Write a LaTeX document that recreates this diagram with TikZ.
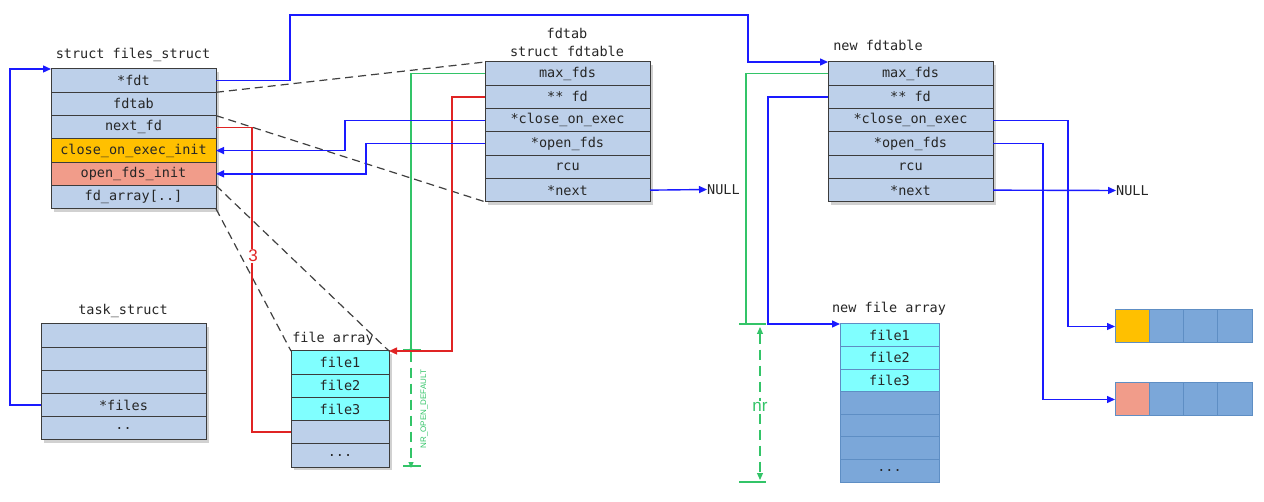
\documentclass[tikz,border=0pt]{standalone}
\usepackage{fontspec}
\setmainfont{Liberation Sans}
\newfontfamily\monof{DejaVu Sans Mono}
\usetikzlibrary{arrows.meta,backgrounds,calc}
\definecolor{lb}{HTML}{BDD0EA}
\definecolor{cy}{HTML}{80FFFF}
\definecolor{og}{HTML}{FFC000}
\definecolor{sa}{HTML}{F19C8A}
\definecolor{db}{HTML}{7BA7D9}
\definecolor{dbb}{HTML}{5E8EC4}
\definecolor{bline}{HTML}{1A1AFF}
\definecolor{rline}{HTML}{E02424}
\definecolor{gline}{HTML}{33C468}
\definecolor{bord}{HTML}{3C3C3C}
\begin{document}
\begin{tikzpicture}[x=1pt,y=-1pt,
  cell/.style={draw=bord, line width=1pt, fill=lb, minimum width=165pt, minimum height=23.3pt,
    inner sep=0pt, outer sep=0pt, anchor=north west, font=\monof\fontsize{13.5}{15}\selectfont, text=black!85},
  fcell/.style={cell, minimum width=98pt, minimum height=23.2pt},
  ncell/.style={cell, draw=dbb, fill=db, minimum width=99pt, minimum height=22.6pt},
  bcell/.style={cell, draw=dbb, fill=db, minimum width=34.25pt, minimum height=33pt},
  title/.style={font=\monof\fontsize{13.5}{15}\selectfont, text=black!85, inner sep=0pt},
  bl/.style={draw=bline, line width=1.4pt},
  rd/.style={draw=rline, line width=1.4pt},
  gr/.style={draw=gline, line width=1.2pt},
  gdash/.style={gr, dash pattern=on 10pt off 6pt},
  arr/.style={-{Triangle[length=8pt,width=7pt]}},
  dsh/.style={draw=black!75, line width=1.2pt, dash pattern=on 8pt off 5pt},
  shad/.style={fill=black, opacity=0.18}
]
\useasboundingbox (0,0) rectangle (1264,502);

% ---- struct files_struct
\node[title] (tfs) at (133,55) {struct files\_struct};
\node[cell] (fs1) at (51,69) {*fdt};
\node[cell] (fs2) at (fs1.south west) {fdtab};
\node[cell] (fs3) at (fs2.south west) {next\_fd};
\node[cell, fill=og] (fs4) at (fs3.south west) {close\_on\_exec\_init};
\node[cell, fill=sa] (fs5) at (fs4.south west) {open\_fds\_init};
\node[cell] (fs6) at (fs5.south west) {fd\_array[..]};

% ---- fdtable
\node[title] (tfd0) at (567,33) {fdtab};
\node[title] (tfd) at (567,51) {struct fdtable};
\node[cell] (fd1) at (485,62) {max\_fds};
\node[cell] (fd2) at (fd1.south west) {** fd};
\node[cell] (fd3) at (fd2.south west) {*close\_on\_exec};
\node[cell] (fd4) at (fd3.south west) {*open\_fds};
\node[cell] (fd5) at (fd4.south west) {rcu};
\node[cell] (fd6) at (fd5.south west) {*next};

% ---- new fdtable
\node[title] (tnf) at (878,45) {new fdtable};
\node[cell] (nf1) at (828,62) {max\_fds};
\node[cell] (nf2) at (nf1.south west) {** fd};
\node[cell] (nf3) at (nf2.south west) {*close\_on\_exec};
\node[cell] (nf4) at (nf3.south west) {*open\_fds};
\node[cell] (nf5) at (nf4.south west) {rcu};
\node[cell] (nf6) at (nf5.south west) {*next};

% ---- task_struct
\node[title] (tts) at (123,311) {task\_struct};
\node[cell, minimum height=23.2pt] (ts1) at (41,324) {};
\node[cell, minimum height=23.2pt] (ts2) at (ts1.south west) {};
\node[cell, minimum height=23.2pt] (ts3) at (ts2.south west) {};
\node[cell, minimum height=23.2pt] (ts4) at (ts3.south west) {*files};
\node[cell, minimum height=23.2pt] (ts5) at (ts4.south west) {..};

% ---- file array
\node[title] (tfa) at (333,339) {file array};
\node[fcell, fill=cy] (fa1) at (291,351) {file1};
\node[fcell, fill=cy] (fa2) at (fa1.south west) {file2};
\node[fcell, fill=cy] (fa3) at (fa2.south west) {file3};
\node[fcell] (fa4) at (fa3.south west) {};
\node[fcell] (fa5) at (fa4.south west) {...};

% ---- new file array
\node[title] (tna) at (889,309) {new file array};
\node[ncell, fill=cy] (na1) at (840,324) {file1};
\node[ncell, fill=cy] (na2) at (na1.south west) {file2};
\node[ncell, fill=cy] (na3) at (na2.south west) {file3};
\node[ncell] (na4) at (na3.south west) {};
\node[ncell] (na5) at (na4.south west) {};
\node[ncell] (na6) at (na5.south west) {};
\node[ncell] (na7) at (na6.south west) {...};

% ---- bitmaps
\node[bcell, fill=og] (ba1) at (1115,310) {};
\node[bcell] (ba2) at (ba1.north east) {};
\node[bcell] (ba3) at (ba2.north east) {};
\node[bcell] (ba4) at (ba3.north east) {};
\node[bcell, fill=sa] (bb1) at (1115,383) {};
\node[bcell] (bb2) at (bb1.north east) {};
\node[bcell] (bb3) at (bb2.north east) {};
\node[bcell] (bb4) at (bb3.north east) {};

% ---- shadows
\begin{scope}[on background layer]
  \foreach \a/\b in {fs1/fs6, fd1/fd6, nf1/nf6, ts1/ts5, fa1/fa5}
    \fill[shad] ([shift={(3,3)}]\a.north west) rectangle ([shift={(3,3)}]\b.south east);
\end{scope}

% ---- NULL labels
\node[title, anchor=west] (null1) at (707,189.5) {NULL};
\node[title, anchor=west] (null2) at (1116,190.5) {NULL};

% ---- dashed guide lines
\draw[dsh] (fs2.north east) -- (fd1.north west);
\draw[dsh] (fs2.south east) -- (fd6.south west);
\draw[dsh] (fs6.north east) -- (fa1.north east);
\draw[dsh] (fs6.south east) -- (fa1.north west);

% ---- green (max_fds) lines and dimensions
\coordinate (g1t) at (411,350);
\coordinate (g1b) at (411,466);
\draw[gr] (fd1.west) -| (g1t);
\draw[gr] (403,466) -- (421,466);
\draw[gdash, {Triangle[length=6pt,width=5pt]}-{Triangle[length=6pt,width=5pt]}] ([yshift=4pt]g1t) -- ([yshift=-2pt]g1b);
\node[text=gline, font=\fontsize{8}{9}\selectfont, rotate=90, inner sep=0pt] (nrod) at (424,409) {NR\_OPEN\_DEFAULT};

\coordinate (g2t) at (746,324);
\draw[gr] (nf1.west) -| (g2t);
\draw[gr] (739,324) -- (766,324);
\draw[gr] (739,482) -- (766,482);
\draw[gdash, {Triangle[length=7pt,width=6pt]}-{Triangle[length=7pt,width=6pt]}] (760,327) -- (760,480);
\node[text=gline, fill=white, font=\fontsize{17}{18}\selectfont, inner sep=1pt] (nr) at (760,407) {nr};

% ---- red lines
\draw[gr] (403,350) -- (421,350);
\draw[rd, arr] (fd2.west) -| (452,0 |- fa1.north east) -- (fa1.north east);
\draw[rd] (fs3.east) -| (252,0 |- fa4.west) -- (fa4.west);
\node[text=rline, fill=white, font=\fontsize{17}{18}\selectfont, inner sep=1pt] (three) at (253,256) {3};

% ---- blue lines
\draw[bl, arr] (fs1.east) -| (290,15) -| (748,0 |- nf1.north west) -- (nf1.north west);
\draw[bl, arr] (ts4.west) -| (10,0 |- fs1.north west) -- (fs1.north west);
\draw[bl, arr] (fd3.west) -| (345,0 |- fs4.east) -- (fs4.east);
\draw[bl, arr] (fd4.west) -| (366,0 |- fs5.east) -- (fs5.east);
\draw[bl, arr] (fd6.east) -- (null1.west);
\draw[bl, arr] (nf6.east) -- (null2.west);
\draw[bl, arr] (nf2.west) -| (768,0 |- na1.north west) -- (na1.north west);
\draw[bl, arr] (nf3.east) -| (1068,0 |- ba1.west) -- (ba1.west);
\draw[bl, arr] (nf4.east) -| (1043,0 |- bb1.west) -- (bb1.west);
\end{tikzpicture}
\end{document}
